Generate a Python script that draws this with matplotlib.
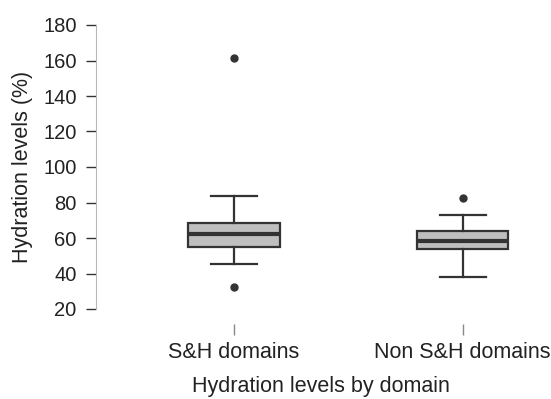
import matplotlib.pyplot as plt

# values
domains = ["S&H domains", "Non S&H domains"]
q1 = [54.8, 53.6]
medians = [62.1, 58.5]
q3 = [68.6, 64.1]
whisker_low = [45.2, 38.0]
whisker_high = [83.7, 73.0]
outliers = [[161.6, 32.6], [82.7]]
yticks = [20, 40, 60, 80, 100, 120, 140, 160, 180]

plt.rcParams['font.family'] = ['Liberation Sans', 'DejaVu Sans']

fig = plt.figure(figsize=(5.51, 3.99), dpi=100)
ax = fig.add_axes([96 / 551, 1 - 309 / 399, 449 / 551, 284 / 399])

stats = []
for i, name in enumerate(domains):
    stats.append(dict(label=name, med=medians[i], q1=q1[i], q3=q3[i],
                      whislo=whisker_low[i], whishi=whisker_high[i],
                      fliers=outliers[i]))

dark = '#333333'
ax.bxp(stats, positions=[1, 2], widths=0.4, patch_artist=True,
       boxprops=dict(facecolor='#bfbfbf', edgecolor=dark, linewidth=1.6),
       medianprops=dict(color=dark, linewidth=3),
       whiskerprops=dict(color=dark, linewidth=1.6),
       capprops=dict(color=dark, linewidth=1.6),
       capwidths=0.2,
       flierprops=dict(marker='o', markerfacecolor=dark, markeredgecolor=dark,
                       markersize=5))

ax.set_xlim(0.397, 2.36)
ax.set_ylim(20, 180)
ax.set_yticks(yticks)

for s in ['top', 'right']:
    ax.spines[s].set_visible(False)
ax.spines['bottom'].set_position(('outward', 11))
ax.spines['bottom'].set_visible(False)
ax.spines['left'].set_color('#b8b8b8')
ax.spines['left'].set_bounds(20, 180)

ax.tick_params(axis='y', length=7.5, width=1, color=dark, pad=6.5,
               labelsize=14.5, labelcolor='#222222')
ax.tick_params(axis='x', length=8, width=1, color='#888888', pad=5,
               labelsize=15.5, labelcolor='#222222')

ax.set_ylabel('Hydration levels (%)', fontsize=15.5, color='#222222', labelpad=7)
ax.set_xlabel('Hydration levels by domain', fontsize=15.5, color='#222222',
              labelpad=9)

fig.savefig('out.png', dpi=100)
